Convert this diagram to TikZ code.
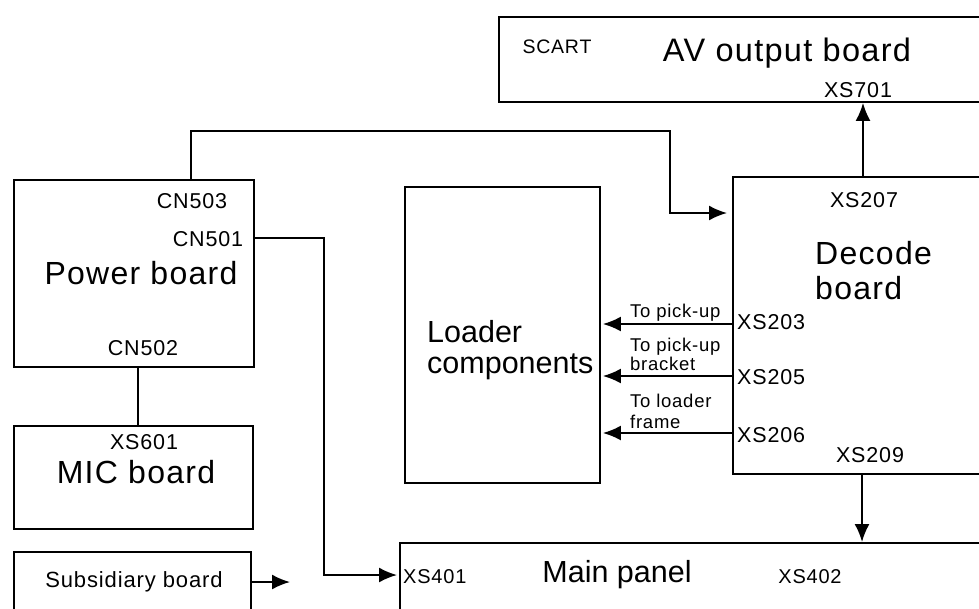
\documentclass[tikz,border=0pt]{standalone}
\usepackage{fontspec}
\setmainfont{Liberation Sans}[LetterSpace=4]
\newfontfamily\plainfont{Liberation Sans}
\usetikzlibrary{arrows.meta}
\tikzset{
  box/.style={draw, line width=1.9pt, inner sep=0pt, anchor=north west},
  wire/.style={line width=1.9pt},
  arr/.style={line width=1.9pt, -{Latex[length=18pt,width=15pt]}},
  big/.style={inner sep=0pt, font=\fontsize{32}{34}\selectfont},
  mid/.style={inner sep=0pt, font=\fontsize{21.5}{23}\selectfont},
  small/.style={inner sep=0pt, font=\fontsize{18.5}{20}\selectfont},
}
\begin{document}
\begin{tikzpicture}[x=1pt,y=-1pt]
\useasboundingbox (0,0) rectangle (979,608);
% boxes
\node[box, minimum width=487pt, minimum height=85pt] (av) at (498,16) {};
\node[box, minimum width=240pt, minimum height=187pt] (power) at (13,179) {};
\node[box, minimum width=239pt, minimum height=103pt] (mic) at (13,425) {};
\node[box, minimum width=237pt, minimum height=69pt] (sub) at (13,551) {};
\node[box, minimum width=195pt, minimum height=296pt] (loader) at (404,186) {};
\node[box, minimum width=253pt, minimum height=297pt] (decode) at (732,176) {};
\node[box, minimum width=586pt, minimum height=78pt] (main) at (399,542) {};
% texts
\node[small, font=\fontsize{19.5}{21}\selectfont] (tscart) at (557,47) {SCART};
\node[big, font=\fontsize{32.5}{34}\selectfont] (tav) at (787,53) {AV output board};
\node[mid] (t701) at (858,90) {XS701};
\node[mid] (t503) at (192,201) {CN503};
\node[mid] (t501) at (208,239) {CN501};
\node[big] (tpower) at (141,273) {Power board};
\node[mid] (t502) at (143,348) {CN502};
\node[mid] (t601) at (144,442) {XS601};
\node[big] (tmic) at (136,472) {MIC board};
\node[mid, font=\fontsize{22}{24}\selectfont] (tsub) at (134,582) {Subsidiary board};
\node[big, font=\plainfont\fontsize{30.5}{32}\selectfont, anchor=west] (tload1) at (427,332) {Loader};
\node[big, font=\plainfont\fontsize{30.5}{32}\selectfont, anchor=west] (tload2) at (427,367) {components};
\node[small, anchor=base west] (tp1) at (630,317) {To pick-up};
\node[small, anchor=base west] (tp2) at (630,351) {To pick-up};
\node[small, anchor=base west] (tp3) at (630,370) {bracket};
\node[small, anchor=base west] (tp4) at (630,407) {To loader};
\node[small, anchor=base west] (tp5) at (630,428) {frame};
\node[mid, anchor=west] (t203) at (737,322) {XS203};
\node[mid, anchor=west] (t205) at (737,377) {XS205};
\node[mid, anchor=west] (t206) at (737,435) {XS206};
\node[mid] (t207) at (864,200) {XS207};
\node[mid] (t209) at (870,455) {XS209};
\node[big, anchor=west] (tdec1) at (815,253) {Decode};
\node[big, anchor=west] (tdec2) at (815,288) {board};
\node[mid, font=\fontsize{20}{22}\selectfont, anchor=west] (t401) at (403,577) {XS401};
\node[big, font=\plainfont\fontsize{30.5}{32}\selectfont] (tmain) at (617,575) {Main panel};
\node[mid, font=\fontsize{20}{22}\selectfont] (t402) at (810,577) {XS402};
% connectors
\coordinate (subend) at (290,582);
\draw[arr, shorten >=5pt] (power.north west -| 191,0) |- (670,131) |- (decode.west |- 0,213);
\draw[arr, shorten >=2pt] (power.east |- 0,238) -| (324,575) -- (main.west |- 0,575);
\draw[wire] (power.south west -| 138,0) -- (mic.north west -| 138,0);
\draw[arr] (sub.east |- 0,582) -- (subend);
\draw[arr] (decode.north west -| 863,0) -- (av.south west -| 863,0);
\draw[arr] (decode.south west -| 862,0) -- (main.north west -| 862,0);
\draw[arr, shorten >=2pt] (decode.west |- 0,324) -- (loader.east |- 0,324);
\draw[arr, shorten >=2pt] (decode.west |- 0,376) -- (loader.east |- 0,376);
\draw[arr, shorten >=2pt] (decode.west |- 0,433) -- (loader.east |- 0,433);
\end{tikzpicture}
\end{document}
